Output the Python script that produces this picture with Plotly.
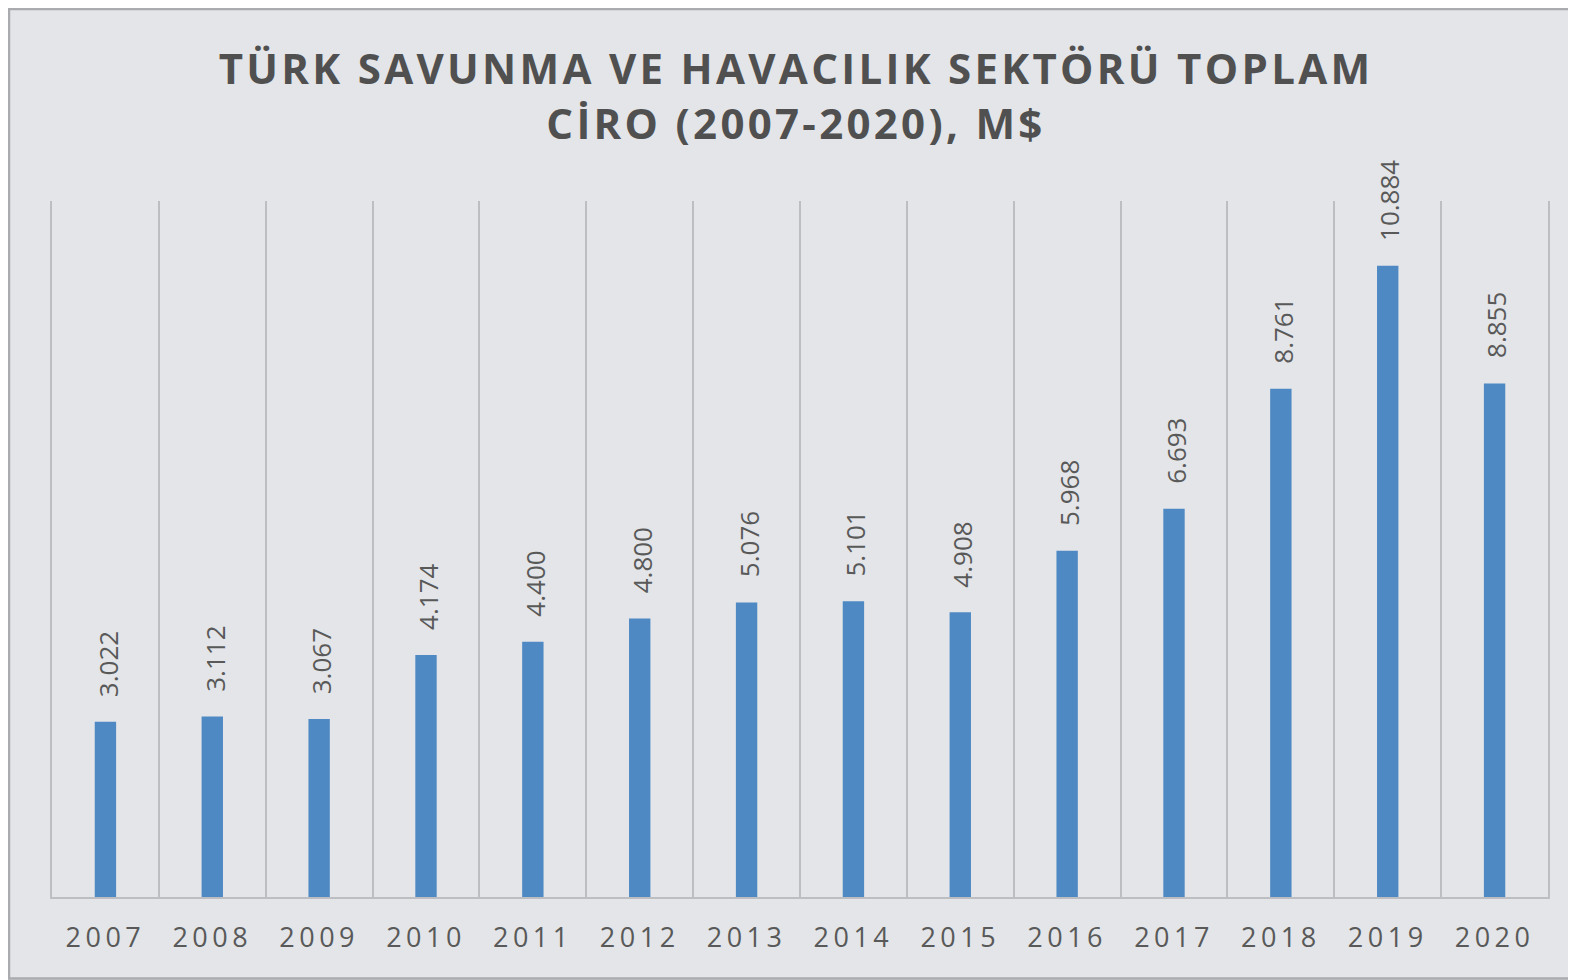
import plotly.graph_objects as go

years = ["2007", "2008", "2009", "2010", "2011", "2012", "2013",
         "2014", "2015", "2016", "2017", "2018", "2019", "2020"]
revenue = [3.022, 3.112, 3.067, 4.174, 4.400, 4.800, 5.076,
           5.101, 4.908, 5.968, 6.693, 8.761, 10.884, 8.855]
labels = ["3.022", "3.112", "3.067", "4.174", "4.400", "4.800", "5.076",
          "5.101", "4.908", "5.968", "6.693", "8.761", "10.884", "8.855"]
title_text = "TÜRK SAVUNMA VE HAVACILIK SEKTÖRÜ TOPLAM<br>CİRO (2007-2020), M$"

BAR = "#4f89c4"
TXT = "#595959"
GRID = "#bcbec1"
BG = "#e3e5e8"

W, H = 1568, 972
L, R, T, B = 44, 28, 193, 83
PW, PH = W - L - R, H - T - B

fig = go.Figure()
fig.add_trace(go.Bar(x=years, y=revenue, width=0.2, marker_color=BAR,
                     marker_line_width=0, hoverinfo="x+y"))

# on a category axis, annotation positions are category indices
for i, (v, lab) in enumerate(zip(revenue, labels)):
    fig.add_annotation(x=i, y=v, text=lab, showarrow=False, textangle=-90,
                       xanchor="center", yanchor="bottom", yshift=23, xshift=2,
                       font=dict(family="Open Sans", size=26, color=TXT))

# figure frame (left, top and bottom edges only)
fx0 = (1 - L) / PW
fx1 = 1.2
fy0 = -(B - 1.5) / PH
fy1 = 1 + (T - 1) / PH
fig.add_shape(type="path", xref="paper", yref="paper",
              path=f"M {fx1},{fy0} L {fx0},{fy0} L {fx0},{fy1} L {fx1},{fy1}",
              line=dict(color="#a9abae", width=2.5), layer="below")

fig.update_layout(
    width=W, height=H,
    margin=dict(l=L, r=R, t=T, b=B),
    paper_bgcolor=BG, plot_bgcolor=BG,
    showlegend=False,
    title=dict(text=title_text, x=(796 - 8) / W, xanchor="center",
               y=1 - 76 / H, yanchor="middle", yref="container",
               font=dict(family="Open Sans", size=42, color="#505050", weight="bold")),
    xaxis=dict(type="category", categoryorder="array", categoryarray=years,
               range=[-0.5, len(years) - 0.5], autorange=False,
               tickson="boundaries", showgrid=True,
               gridcolor=GRID, gridwidth=1.5, showline=True, linecolor=GRID,
               linewidth=2, ticks="", ticklabelstandoff=16, tickangle=0,
               tickfont=dict(family="Open Sans", size=27, color=TXT)),
    yaxis=dict(range=[0, 12], showgrid=False, showticklabels=False,
               zeroline=False, showline=True, mirror=True,
               linecolor=GRID, linewidth=1.5),
)

post = """
var gd = document.getElementsByClassName('plotly-graph-div')[0];
function spacing(){
  gd.querySelectorAll('.gtitle').forEach(function(t){ t.style.letterSpacing='3.3px'; });
  gd.querySelectorAll('.xtick text').forEach(function(t){ t.style.letterSpacing='4.5px'; });
}
spacing();
gd.on('plotly_afterplot', spacing);
"""
fig.write_html("out.html", post_script=post)
